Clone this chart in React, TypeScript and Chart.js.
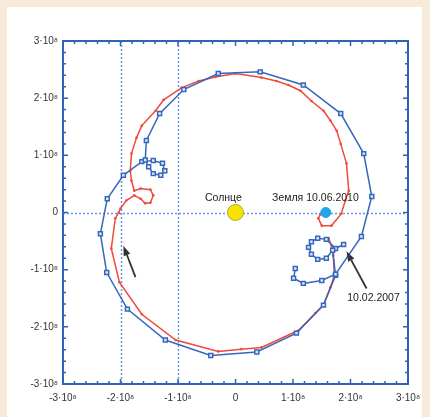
import React, { useEffect, useRef } from "react";
import { Chart, registerables } from "chart.js";

Chart.register(...registerables);

// axis values are in units of 10^8 km
const tickValues = [-3, -2, -1, 0, 1, 2, 3];
const tickLabels = ["-3·10⁸", "-2·10⁸", "-1·10⁸", "0", "1·10⁸", "2·10⁸", "3·10⁸"];
const gridLinesX = [-2, -1];
const gridLinesY = [0];

// red trajectory
const redX = [1.62, 1.67, 1.70, 1.72, 1.65, 1.53, 1.39, 1.10, 0.45, 0.10, -0.30, -1.04, -1.63, -2.02, -2.16, -2.09, -2.03, -2.00, -1.90, -1.76, -1.65, -1.57, -1.48, -1.43, -1.48, -1.65, -1.76, -1.81, -1.83, -1.81, -1.72, -1.63, -1.39, -1.25, -0.94, -0.64, -0.35, 0.00, 0.45, 0.71, 0.92, 1.13, 1.32, 1.53, 1.65, 1.76, 1.83, 1.93, 1.97, 1.91, 1.84, 1.67, 1.50, 1.44, 1.48];
const redY = [-0.45, -0.58, -0.75, -1.10, -1.31, -1.62, -1.76, -2.06, -2.36, -2.39, -2.43, -2.23, -1.78, -1.22, -0.63, -0.10, 0.00, 0.07, 0.21, 0.30, 0.24, 0.16, 0.17, 0.30, 0.40, 0.42, 0.38, 0.56, 0.73, 1.03, 1.31, 1.52, 1.78, 1.97, 2.18, 2.30, 2.37, 2.43, 2.36, 2.30, 2.23, 2.13, 1.95, 1.78, 1.61, 1.43, 1.20, 0.86, 0.38, 0.21, -0.02, -0.23, -0.23, -0.10, -0.03];

// blue trajectory
const blueX = [1.88, 1.74, 1.58, 1.43, 1.32, 1.27, 1.32, 1.43, 1.58, 1.69, 1.74, 1.53, 1.06, 0.37, -0.43, -1.22, -1.88, -2.24, -2.35, -2.23, -1.95, -1.63, -1.43, -1.27, -1.23, -1.30, -1.43, -1.51, -1.57, -1.55, -1.32, -0.90, -0.30, 0.43, 1.18, 1.83, 2.23, 2.37, 2.19, 1.74, 1.50, 1.18, 1.01, 1.04];
const blueY = [-0.56, -0.63, -0.47, -0.45, -0.51, -0.61, -0.73, -0.82, -0.80, -0.66, -1.10, -1.62, -2.11, -2.44, -2.50, -2.23, -1.69, -1.05, -0.37, 0.24, 0.65, 0.89, 0.91, 0.86, 0.73, 0.65, 0.68, 0.80, 0.92, 1.26, 1.73, 2.15, 2.43, 2.46, 2.23, 1.73, 1.03, 0.28, -0.42, -1.08, -1.19, -1.24, -1.15, -0.98];

const sunPos = { x: 0, y: 0 };
const earthPos = { x: 1.57, y: 0 };

const textLabels = ["Солнце", "Земля 10.06.2010", "10.02.2007"];
const textX = [-0.21, 1.39, 2.40];
const textY = [0.26, 0.26, -1.50];

// arrows: tail -> tip
const arrowTailX = [-1.74, 2.28];
const arrowTailY = [-1.13, -1.33];
const arrowTipX = [-1.95, 1.93];
const arrowTipY = [-0.58, -0.68];

const AXIS_BLUE = "#2f63b9";
const LINE_BLUE = "#3567bd";
const RED = "#ef4a3a";
const FONT = '"Liberation Sans", Arial, sans-serif';

export default function App() {
  const ref = useRef<HTMLCanvasElement>(null);

  useEffect(() => {
    const canvas = ref.current;
    if (!canvas) return;
    const pts = (xs: number[], ys: number[]) => xs.map((x, i) => ({ x, y: ys[i] }));

    const decor = {
      id: "decor",
      beforeDatasetsDraw(chart: any) {
        const { ctx, chartArea: a, scales } = chart;
        const sx = scales.x, sy = scales.y;
        ctx.save();
        ctx.strokeStyle = "#6a95dc";
        ctx.lineWidth = 1.5;
        ctx.setLineDash([2, 2]);
        for (const g of gridLinesX) {
          const px = Math.round(sx.getPixelForValue(g)) + 0.5;
          ctx.beginPath(); ctx.moveTo(px, a.top); ctx.lineTo(px, a.bottom); ctx.stroke();
        }
        for (const g of gridLinesY) {
          const py = Math.round(sy.getPixelForValue(g)) + 0.5;
          ctx.beginPath(); ctx.moveTo(a.left, py); ctx.lineTo(a.right, py); ctx.stroke();
        }
        ctx.restore();
      },
      afterDatasetsDraw(chart: any) {
        const { ctx, chartArea: a, scales } = chart;
        const sx = scales.x, sy = scales.y;
        ctx.save();
        // frame
        ctx.strokeStyle = AXIS_BLUE;
        ctx.lineWidth = 2;
        ctx.strokeRect(a.left, a.top, a.right - a.left, a.bottom - a.top);
        // ticks
        ctx.lineWidth = 1.5;
        for (let i = 0; i <= 30; i++) {
          const v = -3 + i * 0.2;
          const len = i % 5 === 0 ? 5 : 3;
          const px = sx.getPixelForValue(v);
          const py = sy.getPixelForValue(v);
          ctx.beginPath();
          ctx.moveTo(px, a.bottom); ctx.lineTo(px, a.bottom - len);
          ctx.moveTo(px, a.top); ctx.lineTo(px, a.top + len);
          ctx.moveTo(a.left, py); ctx.lineTo(a.left + len, py);
          ctx.moveTo(a.right, py); ctx.lineTo(a.right - len, py);
          ctx.stroke();
        }
        // arrows
        ctx.strokeStyle = "#333";
        ctx.fillStyle = "#333";
        ctx.lineWidth = 1.8;
        for (let i = 0; i < arrowTailX.length; i++) {
          const x0 = sx.getPixelForValue(arrowTailX[i]);
          const y0 = sy.getPixelForValue(arrowTailY[i]);
          const x1 = sx.getPixelForValue(arrowTipX[i]);
          const y1 = sy.getPixelForValue(arrowTipY[i]);
          const ang = Math.atan2(y1 - y0, x1 - x0);
          const hl = 10, hw = 3.5;
          const bx = x1 - hl * Math.cos(ang), by = y1 - hl * Math.sin(ang);
          ctx.beginPath(); ctx.moveTo(x0, y0); ctx.lineTo(bx, by); ctx.stroke();
          ctx.beginPath();
          ctx.moveTo(x1, y1);
          ctx.lineTo(bx + hw * Math.sin(ang), by - hw * Math.cos(ang));
          ctx.lineTo(bx - hw * Math.sin(ang), by + hw * Math.cos(ang));
          ctx.closePath(); ctx.fill();
        }
        // text labels
        ctx.fillStyle = "#222";
        ctx.font = `10.5px ${FONT}`;
        ctx.textAlign = "center";
        ctx.textBaseline = "middle";
        for (let i = 0; i < textLabels.length; i++) {
          ctx.fillText(textLabels[i], sx.getPixelForValue(textX[i]), sy.getPixelForValue(textY[i]));
        }
        ctx.restore();
      },
    };

    const labelFor = (v: any) => {
      const idx = tickValues.indexOf(Number(v));
      return idx >= 0 ? tickLabels[idx] : "";
    };

    const chart = new Chart(canvas, {
      type: "scatter",
      data: {
        datasets: [
          {
            data: [sunPos],
            pointRadius: 8,
            pointBackgroundColor: "#f6e400",
            pointBorderColor: "#b3a53a",
            pointBorderWidth: 1,
            showLine: false,
          },
          {
            data: [earthPos],
            pointRadius: 5,
            pointBackgroundColor: "#1ea6e8",
            pointBorderColor: "#1ea6e8",
            pointBorderWidth: 1,
            showLine: false,
          },
          {
            data: pts(blueX, blueY),
            showLine: true,
            borderColor: LINE_BLUE,
            borderWidth: 1.5,
            pointStyle: "rect",
            pointRadius: 2.8,
            pointBackgroundColor: "#dfe8f8",
            pointBorderColor: LINE_BLUE,
            pointBorderWidth: 1.5,
            tension: 0,
          },
          {
            data: pts(redX, redY),
            showLine: true,
            borderColor: RED,
            borderWidth: 1.5,
            pointRadius: 1.3,
            pointBackgroundColor: RED,
            pointBorderColor: RED,
            pointBorderWidth: 0,
            tension: 0,
          },
        ],
      },
      options: {
        responsive: false,
        animation: false,
        devicePixelRatio: 1,
        events: [],
        layout: { padding: { top: 41, right: 22, left: 0, bottom: 0 } },
        plugins: { legend: { display: false }, tooltip: { enabled: false } },
        scales: {
          x: {
            type: "linear",
            position: "bottom",
            min: -3,
            max: 3,
            grid: { display: false, drawTicks: false },
            border: { display: false },
            ticks: {
              stepSize: 1,
              autoSkip: false,
              maxRotation: 0,
              padding: 8,
              color: "#333",
              font: { family: FONT, size: 10 },
              callback: labelFor,
            },
            afterFit: (s: any) => { s.height = 33; },
          },
          y: {
            type: "linear",
            position: "left",
            min: -3,
            max: 3,
            grid: { display: false, drawTicks: false },
            border: { display: false },
            ticks: {
              stepSize: 1,
              autoSkip: false,
              padding: 5,
              color: "#333",
              font: { family: FONT, size: 10 },
              callback: labelFor,
            },
            afterFit: (s: any) => { s.width = 63; },
          },
        },
      },
      plugins: [decor],
    } as any);

    return () => chart.destroy();
  }, []);

  return (
    <div style={{ position: "absolute", left: 0, top: 0, width: 430, height: 417, background: "#f6ead8", overflow: "hidden" }}>
      <div style={{ position: "absolute", left: 7, top: 7, width: 415, height: 410, background: "#ffffff" }} />
      <canvas ref={ref} width={430} height={417} style={{ position: "absolute", left: 0, top: 0, width: 430, height: 417, display: "block" }} />
    </div>
  );
}
